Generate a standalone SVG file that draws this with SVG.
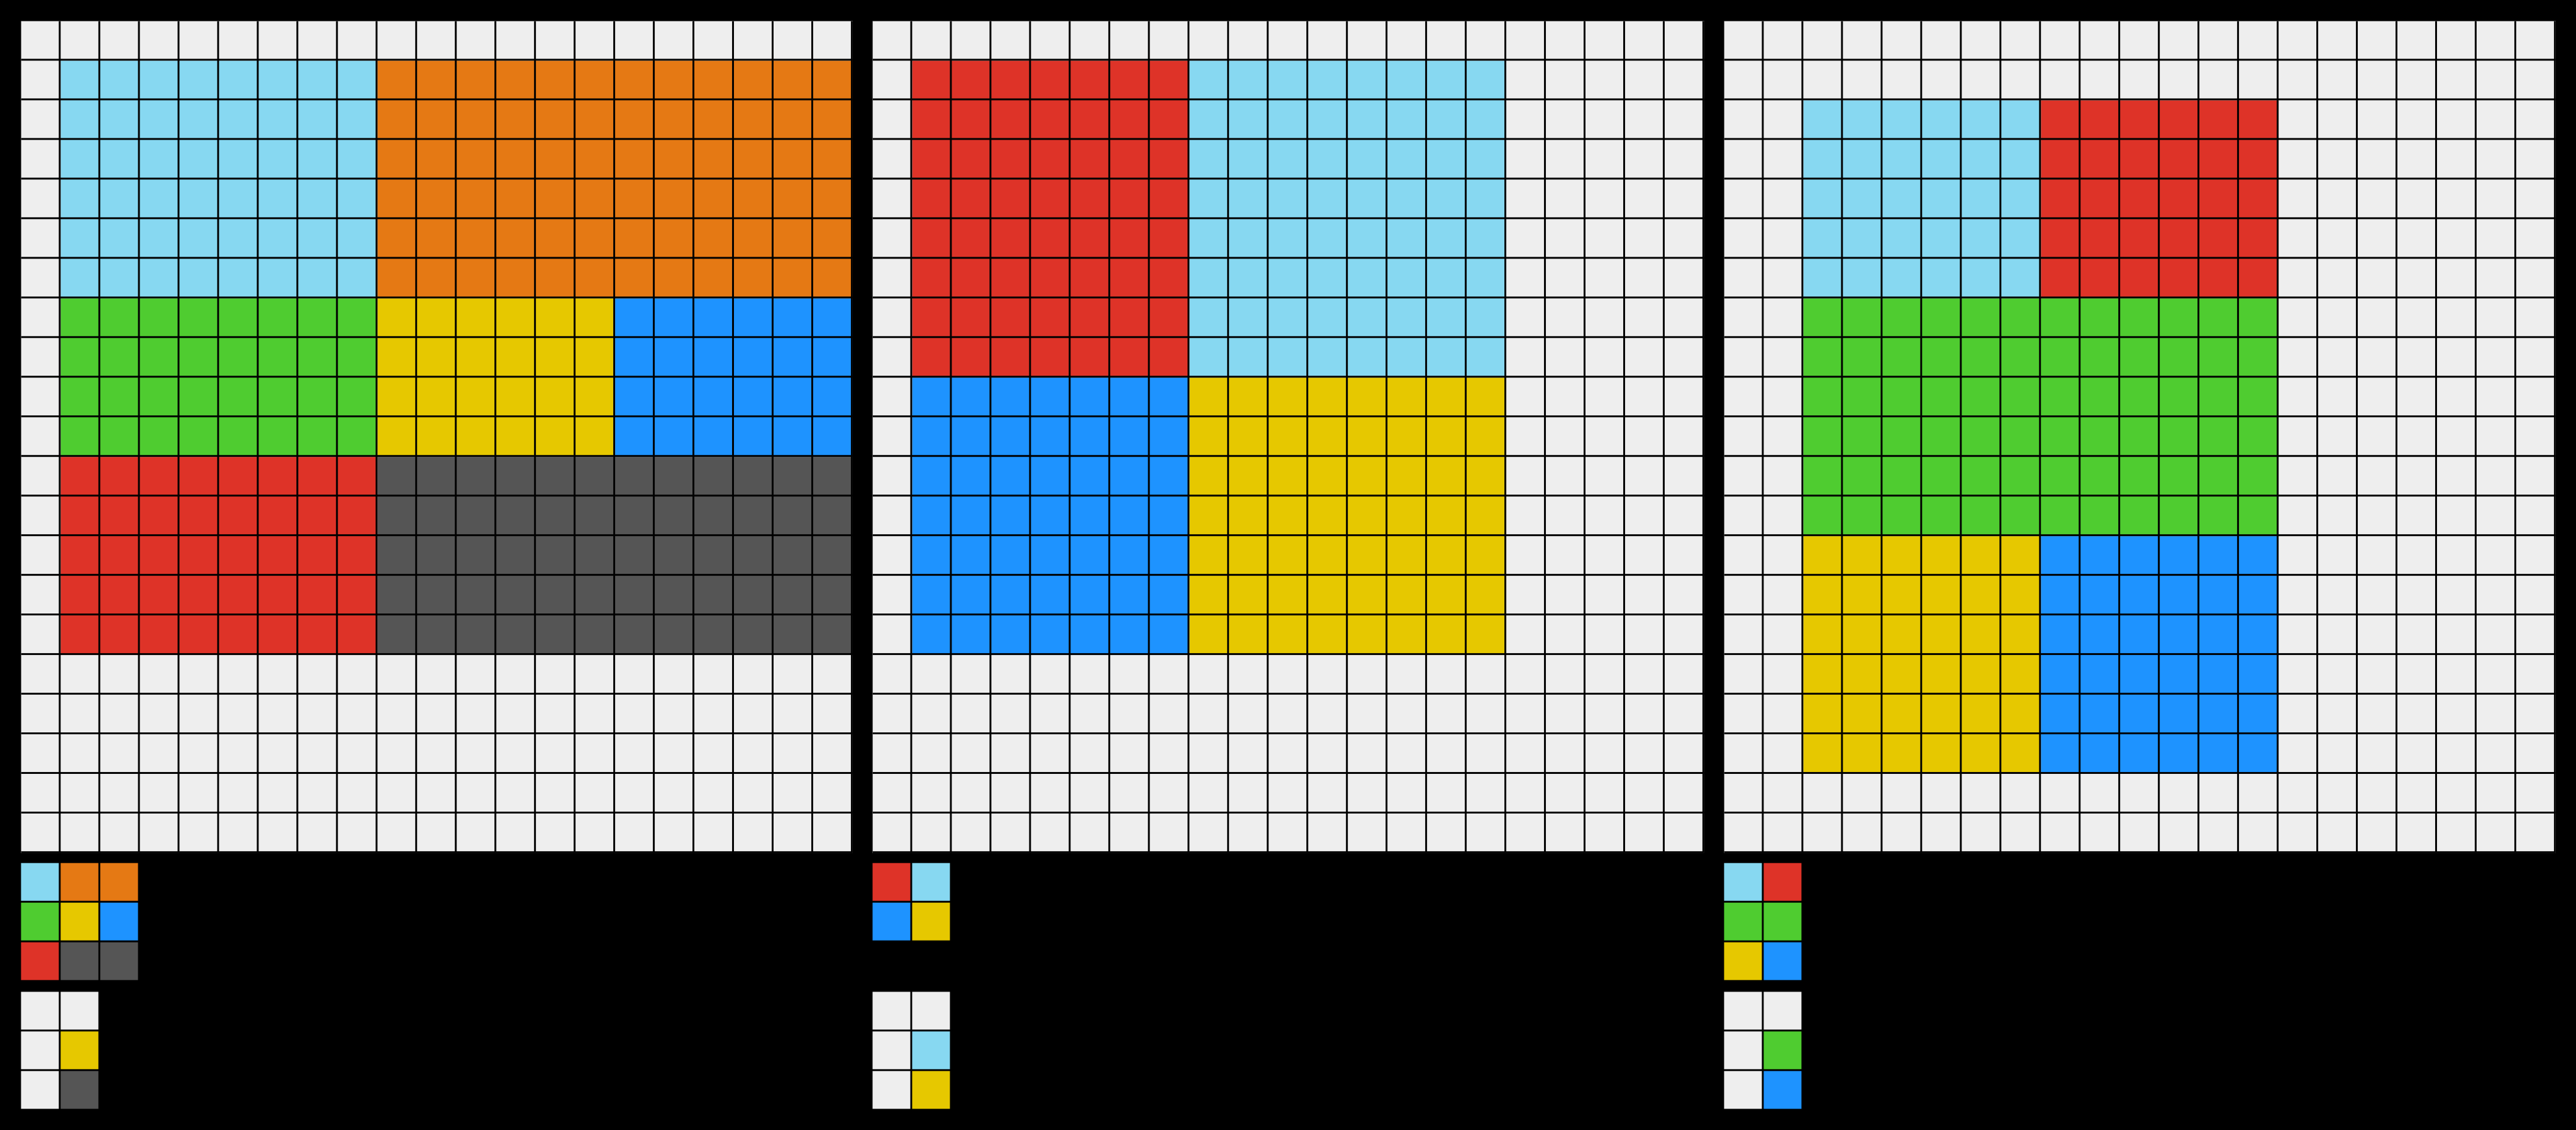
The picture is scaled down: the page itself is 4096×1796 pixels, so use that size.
<svg xmlns="http://www.w3.org/2000/svg" width="4096" height="1796" viewBox="0 0 4096 1796">
<style>
.L{fill:#EEEEEE}.C{fill:#87D8F1}.O{fill:#E57914}.G{fill:#4FCC30}.Y{fill:#E6C800}.B{fill:#1E93FF}.R{fill:#DE3328}.K{fill:#555555}
</style>
<defs>
<pattern id="gl1" patternUnits="userSpaceOnUse" x="34" y="34" width="64" height="64"><rect x="61" y="0" width="3" height="64" fill="#000"/><rect x="0" y="61" width="64" height="3" fill="#000"/></pattern>
<pattern id="gl2" patternUnits="userSpaceOnUse" x="1410" y="34" width="64" height="64"><rect x="61" y="0" width="3" height="64" fill="#000"/><rect x="0" y="61" width="64" height="3" fill="#000"/></pattern>
<pattern id="gl3" patternUnits="userSpaceOnUse" x="2786" y="34" width="64" height="64"><rect x="61" y="0" width="3" height="64" fill="#000"/><rect x="0" y="61" width="64" height="3" fill="#000"/></pattern>
<rect id="c" width="61" height="61"/>
</defs>
<rect width="4096" height="1796" fill="#000"/>
<g transform="scale(0.984)">
<g id="panel1">
<rect class="L" x="34" y="34" width="1344" height="1344"/>
<rect class="C" x="98" y="98" width="512" height="384"/>
<rect class="O" x="610" y="98" width="768" height="384"/>
<rect class="G" x="98" y="482" width="512" height="256"/>
<rect class="Y" x="610" y="482" width="384" height="256"/>
<rect class="B" x="994" y="482" width="384" height="256"/>
<rect class="R" x="98" y="738" width="512" height="320"/>
<rect class="K" x="610" y="738" width="768" height="320"/>
<rect x="34" y="34" width="1344" height="1344" fill="url(#gl1)"/>
</g>
<g id="panel2">
<rect class="L" x="1410" y="34" width="1344" height="1344"/>
<rect class="R" x="1474" y="98" width="448" height="512"/>
<rect class="C" x="1922" y="98" width="512" height="512"/>
<rect class="B" x="1474" y="610" width="448" height="448"/>
<rect class="Y" x="1922" y="610" width="512" height="448"/>
<rect x="1410" y="34" width="1344" height="1344" fill="url(#gl2)"/>
</g>
<g id="panel3">
<rect class="L" x="2786" y="34" width="1344" height="1344"/>
<rect class="C" x="2914" y="162" width="384" height="320"/>
<rect class="R" x="3298" y="162" width="384" height="320"/>
<rect class="G" x="2914" y="482" width="768" height="384"/>
<rect class="Y" x="2914" y="866" width="384" height="384"/>
<rect class="B" x="3298" y="866" width="384" height="384"/>
<rect x="2786" y="34" width="1344" height="1344" fill="url(#gl3)"/>
</g>
<g id="small1">
<use href="#c" class="C" x="34" y="1394"/><use href="#c" class="O" x="98" y="1394"/><use href="#c" class="O" x="162" y="1394"/>
<use href="#c" class="G" x="34" y="1458"/><use href="#c" class="Y" x="98" y="1458"/><use href="#c" class="B" x="162" y="1458"/>
<use href="#c" class="R" x="34" y="1522"/><use href="#c" class="K" x="98" y="1522"/><use href="#c" class="K" x="162" y="1522"/>
<use href="#c" class="L" x="34" y="1602"/><use href="#c" class="L" x="98" y="1602"/>
<use href="#c" class="L" x="34" y="1666"/><use href="#c" class="Y" x="98" y="1666"/>
<use href="#c" class="L" x="34" y="1730"/><use href="#c" class="K" x="98" y="1730"/>
</g>
<g id="small2">
<use href="#c" class="R" x="1410" y="1394"/><use href="#c" class="C" x="1474" y="1394"/>
<use href="#c" class="B" x="1410" y="1458"/><use href="#c" class="Y" x="1474" y="1458"/>
<use href="#c" class="L" x="1410" y="1602"/><use href="#c" class="L" x="1474" y="1602"/>
<use href="#c" class="L" x="1410" y="1666"/><use href="#c" class="C" x="1474" y="1666"/>
<use href="#c" class="L" x="1410" y="1730"/><use href="#c" class="Y" x="1474" y="1730"/>
</g>
<g id="small3">
<use href="#c" class="C" x="2786" y="1394"/><use href="#c" class="R" x="2850" y="1394"/>
<use href="#c" class="G" x="2786" y="1458"/><use href="#c" class="G" x="2850" y="1458"/>
<use href="#c" class="Y" x="2786" y="1522"/><use href="#c" class="B" x="2850" y="1522"/>
<use href="#c" class="L" x="2786" y="1602"/><use href="#c" class="L" x="2850" y="1602"/>
<use href="#c" class="L" x="2786" y="1666"/><use href="#c" class="G" x="2850" y="1666"/>
<use href="#c" class="L" x="2786" y="1730"/><use href="#c" class="B" x="2850" y="1730"/>
</g>
</g>
</svg>
